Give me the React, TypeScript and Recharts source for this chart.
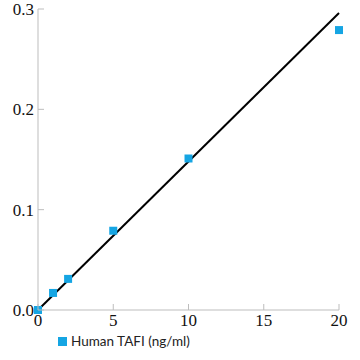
import { ScatterChart, Scatter, XAxis, YAxis, ZAxis } from 'recharts';

const concentrations = [0, 1, 2, 5, 10, 20];
const absorbance = [0.0, 0.017, 0.031, 0.079, 0.151, 0.279];
const fitX = [0, 20];
const fitY = [0.0, 0.296];
const xTicks = [0, 5, 10, 15, 20];
const yTicks = [0, 0.1, 0.2, 0.3];

const points = concentrations.map((x, i) => ({ x, y: absorbance[i] }));
const fitLine = fitX.map((x, i) => ({ x, y: fitY[i] }));

const BLUE = '#15a5e3';
const AXIS = '#bdbdbd';
const TICK_FONT = '"Liberation Serif", serif';

function XTick({ x, y, payload }: any) {
  return (
    <g>
      <line x1={x} y1={y} x2={x} y2={y - 6} stroke={AXIS} />
      <text x={x} y={y + 16} textAnchor="middle" fontSize={17} fontFamily={TICK_FONT} fill="#111">
        {payload.value}
      </text>
    </g>
  );
}

function YTick({ x, y, payload }: any) {
  return (
    <g>
      <line x1={x} y1={y} x2={x + 6} y2={y} stroke={AXIS} />
      <text x={x - 4} y={y + 6} textAnchor="end" fontSize={17} fontFamily={TICK_FONT} fill="#111">
        {Number(payload.value).toFixed(1)}
      </text>
    </g>
  );
}

export default function App() {
  return (
    <div style={{ position: 'absolute', left: 0, top: 0, width: 360, height: 360, background: '#fff' }}>
      <ScatterChart width={360} height={360} margin={{ top: 9, right: 21, bottom: 25, left: 0 }}>
        <XAxis
          type="number"
          dataKey="x"
          domain={[0, 20]}
          ticks={xTicks}
          stroke={AXIS}
          tickLine={false}
          tickSize={0}
          tickMargin={0}
          tick={<XTick />}
          height={25}
        />
        <YAxis
          type="number"
          dataKey="y"
          domain={[0, 0.3]}
          ticks={yTicks}
          stroke={AXIS}
          tickLine={false}
          tickSize={0}
          tickMargin={0}
          tick={<YTick />}
          width={38}
        />
        <ZAxis range={[100, 100]} />
        <Scatter
          data={fitLine}
          line={{ stroke: '#000', strokeWidth: 2 }}
          shape={() => null}
          isAnimationActive={false}
        />
        <Scatter data={points} fill={BLUE} shape="square" isAnimationActive={false} />
      </ScatterChart>
      <div
        style={{
          position: 'absolute',
          left: 58,
          top: 333,
          display: 'flex',
          alignItems: 'center',
          fontFamily: 'Lato, sans-serif',
          fontSize: 13.5,
          color: '#222',
        }}
      >
        <span style={{ display: 'inline-block', width: 9, height: 9, background: BLUE, marginRight: 4 }} />
        Human TAFI (ng/ml)
      </div>
    </div>
  );
}
